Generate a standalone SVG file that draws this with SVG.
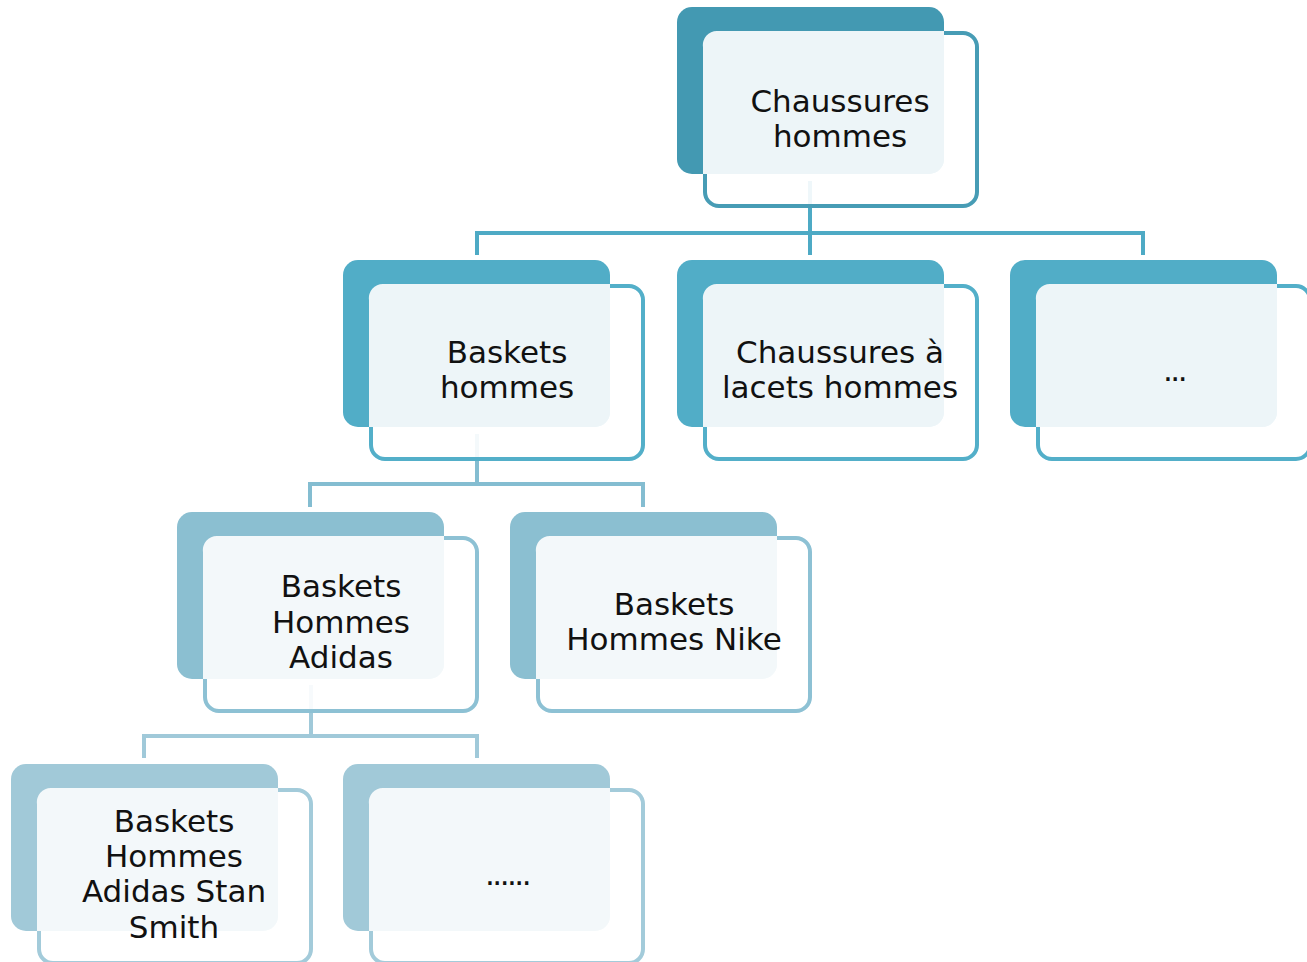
<svg xmlns="http://www.w3.org/2000/svg" width="1307" height="962" viewBox="0 0 1307 962">
<defs>
<style>
.bg{fill:#ffffff}
.back{stroke:none}
.front{fill:#ffffff;fill-opacity:0.91;stroke-width:4}
.lbl{font-family:"DejaVu Sans","Liberation Sans",sans-serif;font-size:31px;fill:#111111;text-anchor:middle}
.c1 .back{fill:#4399b2}.c1 .front{stroke:#479cb5}.c1 .ov{fill:#edf5f8}
.c2 .back{fill:#51adc7}.c2 .front{stroke:#53afc9}.c2 .ov{fill:#edf5f8}
.c3 .back{fill:#8bbfd1}.c3 .front{stroke:#8dc1d4}.c3 .ov{fill:#f3f8fa}
.c4 .back{fill:#a1c9d8}.c4 .front{stroke:#a3cbda}.c4 .ov{fill:#f3f8fa}
.conn{fill:none;stroke-width:4;stroke-linejoin:miter}
</style>
<rect id="backShape" x="0" y="0" width="267" height="167" rx="15"/>
<rect id="frontShape" x="28" y="26" width="272" height="173" rx="14"/>
<path id="ovShape" d="M26 40 A14 14 0 0 1 40 24 L267 24 L267 152 A15 15 0 0 1 252 167 L26 167 Z"/>
</defs>
<rect class="bg" x="0" y="0" width="1307" height="962"/>
<g id="connectors">
<path class="conn" stroke="#4eaac5" d="M810 181 V233 M477 255 V233 H1143 V255 M810 233 V255"/>
<path class="conn" stroke="#84bdd1" d="M477 434 V484 M310 507 V484 H643 V507"/>
<path class="conn" stroke="#a0c9d9" d="M311 685 V736 M144 758 V736 H477 V758"/>
</g>
<g id="n-root" class="c1" transform="translate(677,7)">
<use href="#backShape" class="back"/><use href="#frontShape" class="front"/><use href="#ovShape" class="ov"/>
<text class="lbl" x="163" y="105">Chaussures</text><text class="lbl" x="163" y="140">hommes</text>
</g>
<g id="n-baskets" class="c2" transform="translate(343,260)">
<use href="#backShape" class="back"/><use href="#frontShape" class="front"/><use href="#ovShape" class="ov"/>
<text class="lbl" x="164" y="103">Baskets</text><text class="lbl" x="164" y="138">hommes</text>
</g>
<g id="n-lacets" class="c2" transform="translate(677,260)">
<use href="#backShape" class="back"/><use href="#frontShape" class="front"/><use href="#ovShape" class="ov"/>
<text class="lbl" x="163" y="103">Chaussures à</text><text class="lbl" x="163" y="138">lacets hommes</text>
</g>
<g id="n-more1" class="c2" transform="translate(1010,260)">
<use href="#backShape" class="back"/><use href="#frontShape" class="front"/><use href="#ovShape" class="ov"/>
<text class="lbl" x="164" y="121" style="letter-spacing:-2.5px">...</text>
</g>
<g id="n-adidas" class="c3" transform="translate(177,512)">
<use href="#backShape" class="back"/><use href="#frontShape" class="front"/><use href="#ovShape" class="ov"/>
<text class="lbl" x="164" y="85">Baskets</text><text class="lbl" x="164" y="121">Hommes</text><text class="lbl" x="164" y="156">Adidas</text>
</g>
<g id="n-nike" class="c3" transform="translate(510,512)">
<use href="#backShape" class="back"/><use href="#frontShape" class="front"/><use href="#ovShape" class="ov"/>
<text class="lbl" x="164" y="103">Baskets</text><text class="lbl" x="164" y="138">Hommes Nike</text>
</g>
<g id="n-stansmith" class="c4" transform="translate(11,764)">
<use href="#backShape" class="back"/><use href="#frontShape" class="front"/><use href="#ovShape" class="ov"/>
<text class="lbl" x="163" y="68">Baskets</text><text class="lbl" x="163" y="103">Hommes</text><text class="lbl" x="163" y="138">Adidas Stan</text><text class="lbl" x="163" y="174">Smith</text>
</g>
<g id="n-more2" class="c4" transform="translate(343,764)">
<use href="#backShape" class="back"/><use href="#frontShape" class="front"/><use href="#ovShape" class="ov"/>
<text class="lbl" x="164" y="121" style="letter-spacing:-2.5px">......</text>
</g>
</svg>
